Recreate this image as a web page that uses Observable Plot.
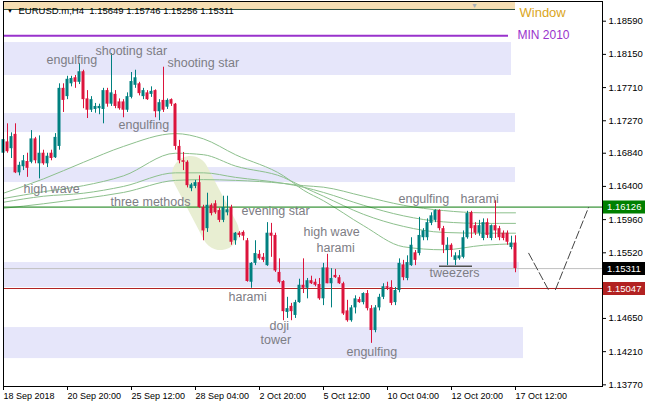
<!DOCTYPE html>
<html><head><meta charset="utf-8">
<script src="https://cdn.jsdelivr.net/npm/d3@7"></script>
<script src="https://cdn.jsdelivr.net/npm/@observablehq/plot@0.6"></script>
<style>body{margin:0;background:#fff}svg{display:block}</style>
</head><body><div id="chart"></div>
<script>
// ---- candle data (EURUSD H4), bar index 0..128 ----
const open  = [1.1684,1.1699,1.1690,1.1709,1.1658,1.1666,1.1673,1.1672,1.1703,1.1670,1.1684,1.1670,1.1684,1.1678,1.1693,1.1770,1.1759,1.1776,1.1784,1.1778,1.1792,1.1756,1.1741,1.1742,1.1743,1.1742,1.1767,1.1749,1.1762,1.1752,1.1752,1.1741,1.1758,1.1774,1.1776,1.1759,1.1764,1.1762,1.1767,1.1739,1.1754,1.1745,1.1755,1.1749,1.1693,1.1674,1.1672,1.1637,1.1640,1.1645,1.1612,1.1584,1.1615,1.1617,1.1608,1.1595,1.1605,1.1612,1.1568,1.1578,1.1579,1.1568,1.1513,1.1538,1.1550,1.1546,1.1535,1.1578,1.1575,1.1526,1.1514,1.1473,1.1481,1.1469,1.1486,1.1509,1.1505,1.1515,1.1513,1.1510,1.1491,1.1532,1.1511,1.1522,1.1519,1.1511,1.1475,1.1462,1.1479,1.1490,1.1486,1.1498,1.1478,1.1449,1.1479,1.1493,1.1507,1.1506,1.1486,1.1502,1.1536,1.1518,1.1535,1.1552,1.1551,1.1572,1.1572,1.1591,1.1595,1.1608,1.1584,1.1555,1.1562,1.1542,1.1544,1.1546,1.1572,1.1605,1.1588,1.1578,1.1571,1.1592,1.1571,1.1588,1.1584,1.1578,1.1578,1.1559,1.15649];
const high  = [1.1707,1.1723,1.1711,1.1723,1.1672,1.1681,1.1684,1.1714,1.1705,1.1707,1.1688,1.1684,1.1688,1.1710,1.1776,1.1776,1.1786,1.1786,1.1787,1.1803,1.1794,1.1767,1.1759,1.1750,1.1749,1.1770,1.1770,1.1816,1.1767,1.1756,1.1755,1.1764,1.1791,1.1794,1.1778,1.1770,1.1767,1.1772,1.1768,1.1755,1.1798,1.1756,1.1756,1.1750,1.1701,1.1685,1.1674,1.1644,1.1648,1.1654,1.1615,1.1631,1.1617,1.1621,1.1611,1.1627,1.1627,1.1615,1.1579,1.1580,1.1581,1.1571,1.1539,1.1568,1.1555,1.1551,1.1592,1.1591,1.1578,1.1544,1.1515,1.1493,1.1485,1.1489,1.1517,1.1544,1.1518,1.1521,1.1517,1.1518,1.1538,1.1550,1.1531,1.1530,1.1522,1.1513,1.1489,1.1482,1.1495,1.1493,1.1499,1.1502,1.1482,1.1482,1.1497,1.1511,1.1513,1.1515,1.1506,1.1544,1.1542,1.1548,1.1572,1.1555,1.1599,1.1584,1.1597,1.1605,1.1609,1.1609,1.1587,1.1572,1.1564,1.1552,1.1555,1.1581,1.1607,1.1607,1.1592,1.1595,1.1597,1.1597,1.1589,1.1621,1.1587,1.1581,1.1581,1.1574,1.15746];
const low   = [1.1672,1.1684,1.1677,1.1657,1.1654,1.1661,1.1652,1.1670,1.1670,1.1650,1.1668,1.1665,1.1674,1.1677,1.1688,1.1738,1.1755,1.1772,1.1770,1.1775,1.1743,1.1730,1.1738,1.1737,1.1735,1.1723,1.1745,1.1746,1.1743,1.1741,1.1731,1.1738,1.1756,1.1770,1.1760,1.1755,1.1754,1.1758,1.1731,1.1727,1.1738,1.1742,1.1746,1.1688,1.1670,1.1661,1.1638,1.1633,1.1637,1.1611,1.1568,1.1579,1.1601,1.1603,1.1592,1.1592,1.1601,1.1562,1.1562,1.1572,1.1568,1.1513,1.1505,1.1535,1.1542,1.1539,1.1534,1.1546,1.1526,1.1511,1.1462,1.1465,1.1462,1.1465,1.1485,1.1498,1.1491,1.1510,1.1507,1.1489,1.1482,1.1511,1.1479,1.1518,1.1510,1.1469,1.1460,1.1460,1.1471,1.1485,1.1483,1.1475,1.1432,1.1446,1.1475,1.1490,1.1502,1.1482,1.1482,1.1499,1.1515,1.1515,1.1534,1.1535,1.1548,1.1568,1.1568,1.1588,1.1592,1.1581,1.1551,1.1535,1.1546,1.1535,1.1542,1.1544,1.1570,1.1571,1.1575,1.1574,1.1568,1.1571,1.1568,1.1571,1.1568,1.1568,1.1562,1.1556,1.15256];
const close = [1.1702,1.1686,1.1706,1.1658,1.1668,1.1674,1.1664,1.1703,1.1674,1.1684,1.1670,1.1680,1.1677,1.1705,1.1770,1.1754,1.1782,1.1783,1.1778,1.1792,1.1755,1.1741,1.1755,1.1746,1.1746,1.1767,1.1749,1.1764,1.1746,1.1743,1.1741,1.1759,1.1779,1.1784,1.1763,1.1767,1.1755,1.1766,1.1739,1.1751,1.1741,1.1754,1.1749,1.1693,1.1674,1.1672,1.1641,1.1642,1.1645,1.1612,1.1581,1.1615,1.1604,1.1605,1.1595,1.1612,1.1609,1.1566,1.1578,1.1575,1.1574,1.1514,1.1538,1.1551,1.1544,1.1542,1.1578,1.1574,1.1528,1.1513,1.1474,1.1478,1.1474,1.1486,1.1509,1.1505,1.1515,1.1511,1.1509,1.1491,1.1532,1.1511,1.1518,1.1519,1.1511,1.1471,1.1462,1.1479,1.1491,1.1486,1.1498,1.1478,1.1449,1.1479,1.1493,1.1507,1.1505,1.1485,1.1502,1.1538,1.1519,1.1539,1.1562,1.1542,1.1575,1.1581,1.1592,1.1601,1.1608,1.1584,1.1562,1.1562,1.1555,1.1548,1.1548,1.1572,1.1604,1.1584,1.1578,1.1588,1.1592,1.1575,1.1588,1.1581,1.1572,1.1571,1.1566,1.1565,1.15311];

// ---- moving averages, read at sample bars ----
const maBars = [0,10,20,30,43,50,58,70,75,80,90,100,110,120,128];
const ma1 = [1.1631,1.1650,1.1672,1.1693,1.1710,1.1703,1.1682,1.1654,1.1635,1.1621,1.1588,1.1560,1.1556,1.1562,1.1564];
const ma2 = [1.1624,1.1633,1.1641,1.1654,1.1684,1.1682,1.1667,1.1652,1.1639,1.1627,1.1603,1.1587,1.1579,1.1578,1.1578];
const ma3 = [1.1619,1.1627,1.1631,1.1640,1.1658,1.1658,1.1652,1.1644,1.1639,1.1632,1.1615,1.1601,1.1593,1.1591,1.1591];
const ma4 = [1.1611,1.1617,1.1624,1.1632,1.1648,1.1649,1.1648,1.1644,1.1641,1.1639,1.1627,1.1615,1.1608,1.1605,1.1605];

// ---- zones (rectangles) ----
const zoneTop    = [1.18307,1.17366,1.16650,1.15391,1.14529];
const zoneBottom = [1.17870,1.17114,1.16451,1.15060,1.14118];
const zoneEnd    = [127,128,128,129,130];
const windowTop = 1.18851, windowBottom = 1.18745, windowEnd = 128;
const minLevel = 1.18396, minEnd = 126.25;

// ---- horizontal price levels ----
const levelGreen = 1.16126, levelBid = 1.15311, levelRed = 1.15047;

// ---- three methods highlight ----
const blobBars = [46.75, 54.25];
const blobPrices = [1.16558, 1.15802];

// ---- tweezers line ----
const tweezBars = [109, 117.25];
const tweezPrice = 1.15342;

// ---- projection (dashed V) ----
const projA = {bars:[131.3,136.2], prices:[1.15514,1.15033]};
const projB = {bars:[138.0,146.25], prices:[1.15033,1.16120]};

// ---- pattern labels ----
const labelText  = ["engulfing","shooting star","shooting star","engulfing","high wave","three methods","evening star","high wave","harami","harami","doji","tower","engulfing","tweezers","engulfing","harami"];
const labelBar   = [10.75,23,41,28.75,5,26.75,59.5,75,78.25,56.25,66.5,64.25,85.75,106.5,98.75,114.25];
const labelPrice = [1.1807,1.1820,1.1804,1.1721,1.1637,1.1619,1.1607,1.1579,1.1559,1.1493,1.1455,1.1436,1.1420,1.1525,1.1623,1.1623];

// ---- axes ----
const yTicks = [1.18590,1.18150,1.17710,1.17270,1.16840,1.16400,1.15960,1.15520,1.14650,1.14210,1.13770];
const xTicks = [0,16,32,48,64,80,96,112,128];
const xLabels = ["18 Sep 2018","20 Sep 20:00","25 Sep 12:00","28 Sep 04:00","2 Oct 20:00","5 Oct 12:00","10 Oct 04:00","12 Oct 20:00","17 Oct 12:00"];
const title = "EURUSD.m,H4  1.15649 1.15746 1.15256 1.15311";

// ---- build ----
const bars = open.map((o, i) => ({i, o, h: high[i], l: low[i], c: close[i]}));
const zones = zoneTop.map((t, k) => ({top: t, bottom: zoneBottom[k], end: zoneEnd[k]}));
const mas = [ma1, ma2, ma3, ma4].flatMap((m, k) => m.map((v, j) => ({k, bar: maBars[j], v})));
const labels = labelText.map((t, k) => ({t, bar: labelBar[k], p: labelPrice[k]}));
const seg = s => s.bars.map((b, j) => ({bar: b, p: s.prices[j]}));
const BULL = "#008080", BEAR = "#dc143c";
const font = "Liberation Sans, Arial, sans-serif";

const boxes = [
  {p: levelGreen, fill: "#008000"},
  {p: levelBid, fill: "#000000"},
  {p: levelRed, fill: "#b22222"}
];

const chart = Plot.plot({
  width: 645, height: 408,
  marginLeft: 3, marginRight: 43, marginTop: 1, marginBottom: 22,
  x: {domain: [0, 149.75], axis: null},
  y: {domain: [1.13748, 1.18851], axis: null},
  style: {fontFamily: font, fontSize: "9.5px", background: "#fff", overflow: "visible"},
  marks: [
    Plot.rect(zones, {x1: 0, x2: "end", y1: "bottom", y2: "top", fill: "#e6e6fa"}),
    Plot.rect([0], {x1: 0, x2: windowEnd, y1: windowBottom, y2: windowTop, fill: "#f5deb3"}),
    Plot.ruleY([windowBottom], {x1: 0, x2: windowEnd, stroke: "#2f4f3f", strokeWidth: 1}),
    Plot.line([{bar: blobBars[0], p: blobPrices[0]}, {bar: blobBars[1], p: blobPrices[1]}],
      {x: "bar", y: "p", stroke: "#e8eed2", strokeWidth: 37, strokeLinecap: "round"}),
    Plot.line(mas, {x: "bar", y: "v", z: "k", stroke: "#8dc08d", strokeWidth: 1, curve: "monotone-x"}),
    Plot.ruleY([levelGreen], {stroke: "#0a7a0a", strokeWidth: 1}),
    Plot.ruleY([levelBid], {stroke: "#c0c0c0", strokeWidth: 1}),
    Plot.ruleY([levelRed], {stroke: "#b22222", strokeWidth: 1}),
    Plot.ruleY([minLevel], {x1: 0, x2: minEnd, stroke: "#9932cc", strokeWidth: 2}),
    Plot.ruleX(bars, {x: "i", y1: "l", y2: "h", stroke: d => d.c >= d.o ? BULL : BEAR, strokeWidth: 1}),
    Plot.rect(bars, {x1: d => d.i - 0.375, x2: d => d.i + 0.375, y1: "o", y2: "c", fill: d => d.c >= d.o ? BULL : BEAR}),
    Plot.ruleY([tweezPrice], {x1: tweezBars[0], x2: tweezBars[1], stroke: "#505050", strokeWidth: 1.5}),
    Plot.text(labels, {x: "bar", y: "p", text: "t", textAnchor: "start", fill: "#7d7d85", fontSize: 12.5, fontFamily: font}),
    Plot.text(["Window"], {x: 129, y: 1.1870, textAnchor: "start", fill: "#daa520", fontSize: 13}),
    Plot.text(["MIN 2010"], {x: 128.5, y: 1.1841, textAnchor: "start", fill: "#9932cc", fontSize: 12}),
    Plot.line(seg(projA), {x: "bar", y: "p", stroke: "#444", strokeWidth: 1, strokeDasharray: "8,3"}),
    Plot.line(seg(projB), {x: "bar", y: "p", stroke: "#444", strokeWidth: 1, strokeDasharray: "8,3"}),
    Plot.text([title], {frameAnchor: "top-left", dx: 15, dy: 9.5, textAnchor: "start", lineAnchor: "middle", fill: "#000", fontSize: 9.5}),
    Plot.text(["▼"], {frameAnchor: "top-left", dx: 6.5, dy: 9.5, textAnchor: "middle", lineAnchor: "middle", fill: "#000", fontSize: 6}),
    Plot.text(["▼"], {frameAnchor: "top-left", dx: 471, dy: 4, textAnchor: "middle", lineAnchor: "middle", fill: "#a8b0b8", fontSize: 7}),
    Plot.frame({stroke: "#000"}),
    Plot.axisY(yTicks, {anchor: "right", tickSize: 3, tickPadding: 3, tickFormat: d3.format(".5f"), fontSize: 9.5, stroke: "#000"}),
    Plot.axisX(xTicks, {anchor: "bottom", tickSize: 4, tickPadding: 2, textAnchor: "start", fontSize: 9,
      tickFormat: d => xLabels[xTicks.indexOf(d)]}),
    Plot.ruleY(boxes, {y: "p", x1: 150, x2: 161.5, stroke: "fill", strokeWidth: 13}),
    Plot.text(boxes, {y: "p", x: 150.9, text: d => d3.format(".5f")(d.p), textAnchor: "start", fill: "#fff", fontSize: 9.5})
  ]
});
document.getElementById("chart").appendChild(chart);
</script>
</body></html>
